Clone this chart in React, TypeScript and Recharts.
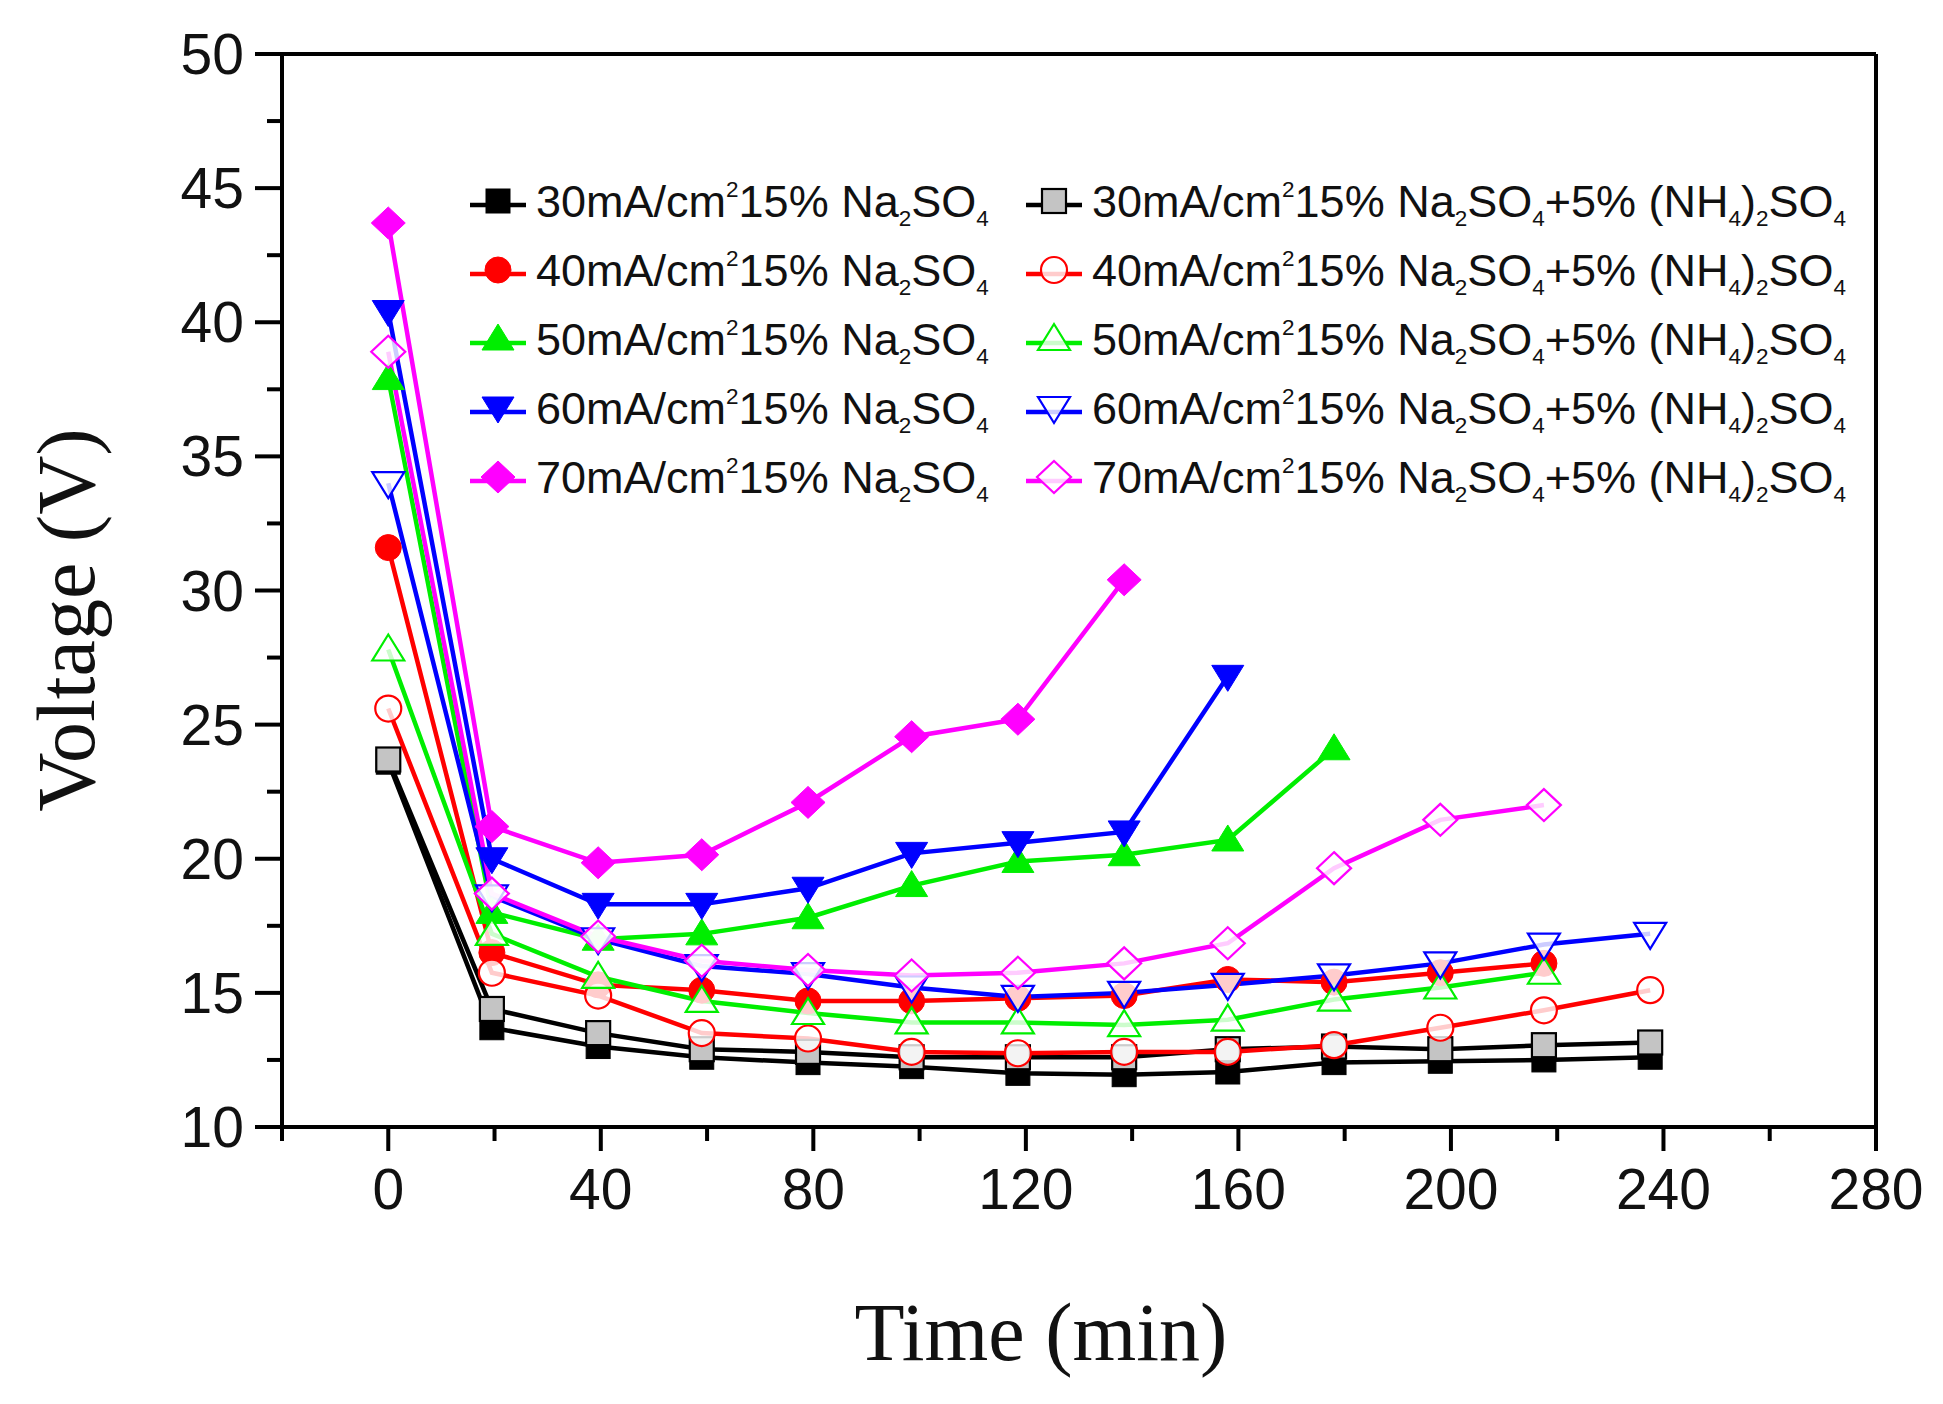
import React from "react";
import { LineChart, Line, XAxis, YAxis, ReferenceLine, Label } from "recharts";

// sampling times (min)
const times = [0, 19.5, 39.5, 59, 79, 98.5, 118.5, 138.5, 158, 178, 198, 217.5, 237.5];

// 15% Na2SO4
const na30 = [23.6, 13.7, 13.0, 12.6, 12.4, 12.25, 12.0, 11.95, 12.05, 12.4, 12.45, 12.5, 12.6];
const na40 = [31.6, 16.5, 15.3, 15.1, 14.7, 14.7, 14.8, 14.9, 15.5, 15.4, 15.75, 16.1];
const na50 = [37.9, 18.0, 17.0, 17.2, 17.8, 19.0, 19.9, 20.15, 20.7, 24.1];
const na60 = [40.4, 20.0, 18.3, 18.3, 18.9, 20.2, 20.6, 21.0, 26.8];
const na70 = [43.7, 21.2, 19.85, 20.15, 22.1, 24.55, 25.2, 30.4];

// 15% Na2SO4 + 5% (NH4)2SO4
const mix30 = [23.7, 14.4, 13.5, 12.9, 12.8, 12.6, 12.6, 12.6, 12.9, 13.0, 12.9, 13.05, 13.15];
const mix40 = [25.6, 15.75, 14.9, 13.5, 13.3, 12.8, 12.75, 12.8, 12.8, 13.05, 13.7, 14.35, 15.1];
const mix50 = [27.8, 17.2, 15.6, 14.7, 14.25, 13.9, 13.9, 13.8, 14.0, 14.75, 15.2, 15.75];
const mix60 = [34.0, 18.6, 17.0, 16.0, 15.7, 15.2, 14.85, 15.0, 15.3, 15.65, 16.1, 16.8, 17.2];
const mix70 = [38.9, 18.7, 17.1, 16.2, 15.85, 15.65, 15.75, 16.1, 16.85, 19.65, 21.45, 22.0];

const xTicks = [-20, 0, 20, 40, 60, 80, 100, 120, 140, 160, 180, 200, 220, 240, 260, 280];
const yTicks = [10, 12.5, 15, 17.5, 20, 22.5, 25, 27.5, 30, 32.5, 35, 37.5, 40, 42.5, 45, 47.5, 50];

type Shape = "square" | "circle" | "up" | "down" | "diamond";

interface Series {
  key: string;
  conc: string;
  mixed: boolean;
  color: string;
  shape: Shape;
  values: number[];
}

const series: Series[] = [
  { key: "na30", conc: "30", mixed: false, color: "#000000", shape: "square", values: na30 },
  { key: "na40", conc: "40", mixed: false, color: "#ff0000", shape: "circle", values: na40 },
  { key: "na50", conc: "50", mixed: false, color: "#00ee00", shape: "up", values: na50 },
  { key: "na60", conc: "60", mixed: false, color: "#0000ff", shape: "down", values: na60 },
  { key: "na70", conc: "70", mixed: false, color: "#ff00ff", shape: "diamond", values: na70 },
  { key: "mix30", conc: "30", mixed: true, color: "#000000", shape: "square", values: mix30 },
  { key: "mix40", conc: "40", mixed: true, color: "#ff0000", shape: "circle", values: mix40 },
  { key: "mix50", conc: "50", mixed: true, color: "#00ee00", shape: "up", values: mix50 },
  { key: "mix60", conc: "60", mixed: true, color: "#0000ff", shape: "down", values: mix60 },
  { key: "mix70", conc: "70", mixed: true, color: "#ff00ff", shape: "diamond", values: mix70 },
];

const SANS = "'Liberation Sans', Arial, sans-serif";
const SERIF = "'Liberation Serif', 'Times New Roman', serif";

function Marker({ cx, cy, shape, color, open }: { cx: number; cy: number; shape: Shape; color: string; open: boolean }) {
  let fill = open ? "rgba(255,255,255,0.8)" : color;
  let stroke = color;
  if (shape === "square" && open) {
    fill = "#c4c4c4";
    stroke = "#000";
  }
  const sw = open ? 2.2 : 1;
  switch (shape) {
    case "square":
      return <rect x={cx - 12} y={cy - 12} width={24} height={24} fill={fill} stroke={stroke} strokeWidth={sw} />;
    case "circle":
      return <circle cx={cx} cy={cy} r={13} fill={fill} stroke={stroke} strokeWidth={sw} />;
    case "up":
      return <polygon points={`${cx},${cy - 15} ${cx - 16},${cy + 11} ${cx + 16},${cy + 11}`} fill={fill} stroke={stroke} strokeWidth={sw} />;
    case "down":
      return <polygon points={`${cx - 16},${cy - 11} ${cx + 16},${cy - 11} ${cx},${cy + 15}`} fill={fill} stroke={stroke} strokeWidth={sw} />;
    default:
      return <polygon points={`${cx},${cy - 16} ${cx + 17},${cy} ${cx},${cy + 16} ${cx - 17},${cy}`} fill={fill} stroke={stroke} strokeWidth={sw} />;
  }
}

function XTick(props: any) {
  const { x, y, payload } = props;
  const v = payload.value;
  const major = v % 40 === 0;
  return (
    <g>
      <line x1={x} x2={x} y1={y} y2={y + (major ? 24 : 14)} stroke="#000" strokeWidth={4} />
      {major && (
        <text x={x} y={y + 62} textAnchor="middle" dominantBaseline="central" fontFamily={SANS} fontSize={57} fill="#111">
          {v}
        </text>
      )}
    </g>
  );
}

function YTick(props: any) {
  const { x, y, payload } = props;
  const v = payload.value;
  const major = v % 5 === 0;
  return (
    <g>
      <line x1={x} x2={x - (major ? 27 : 15)} y1={y} y2={y} stroke="#000" strokeWidth={4} />
      {major && (
        <text x={x - 38} y={y} textAnchor="end" dominantBaseline="central" fontFamily={SANS} fontSize={57} fill="#111">
          {v}
        </text>
      )}
    </g>
  );
}

function LegendText({ s }: { s: Series }) {
  const sub: React.CSSProperties = { fontSize: "0.5em", verticalAlign: "-0.4em", lineHeight: 0 };
  const sup: React.CSSProperties = { fontSize: "0.5em", verticalAlign: "0.9em", lineHeight: 0 };
  return (
    <span>
      {s.conc}mA/cm<span style={sup}>2</span>15% Na<span style={sub}>2</span>SO<span style={sub}>4</span>
      {s.mixed && (
        <>
          +5% (NH<span style={sub}>4</span>)<span style={sub}>2</span>SO<span style={sub}>4</span>
        </>
      )}
    </span>
  );
}

function ChartLegend() {
  return (
    <>
      {series.map((s, i) => {
        const col = s.mixed ? 1 : 0;
        const row = i % 5;
        const left = col === 0 ? 466 : 1022;
        const top = 202 + row * 69 - 25;
        return (
          <div
            key={s.key}
            style={{
              position: "absolute", left, top, height: 50, display: "flex", alignItems: "center",
              fontFamily: SANS, fontSize: 45, color: "#111", whiteSpace: "nowrap",
            }}
          >
            <svg width={64} height={50} style={{ marginRight: 6 }}>
              <line x1={4} x2={60} y1={28} y2={28} stroke={s.color} strokeWidth={4.5} />
              <Marker cx={32} cy={24} shape={s.shape} color={s.color} open={s.mixed} />
            </svg>
            <LegendText s={s} />
          </div>
        );
      })}
    </>
  );
}

export default function App() {
  return (
    <div style={{ position: "absolute", left: 0, top: 0, width: 1943, height: 1404, background: "#fff" }}>
      <LineChart width={1943} height={1404} margin={{ top: 54, right: 67, left: 0, bottom: 0 }}>
        <XAxis
          type="number"
          dataKey="t"
          domain={[-20, 280]}
          ticks={xTicks}
          interval={0}
          height={277}
          tickSize={0}
          tickMargin={0}
          tickLine={false}
          tick={<XTick />}
          axisLine={{ stroke: "#000", strokeWidth: 4 }}
        >
          <Label
            content={() => (
              <text x={1041} y={1332} textAnchor="middle" dominantBaseline="central" fontFamily={SERIF} fontSize={82} fill="#111">
                Time (min)
              </text>
            )}
          />
        </XAxis>
        <YAxis
          type="number"
          domain={[10, 50]}
          ticks={yTicks}
          interval={0}
          width={282}
          tickSize={0}
          tickMargin={0}
          tickLine={false}
          tick={<YTick />}
          axisLine={{ stroke: "#000", strokeWidth: 4 }}
        >
          <Label
            content={() => (
              <text x={66} y={620} textAnchor="middle" dominantBaseline="central" fontFamily={SERIF} fontSize={82} fill="#111" transform="rotate(-90 66 620)">
                Voltage (V)
              </text>
            )}
          />
        </YAxis>
        <ReferenceLine y={50} stroke="#000" strokeWidth={4} />
        <ReferenceLine x={280} stroke="#000" strokeWidth={4} />
        {series.map((s) => {
          const data = s.values.map((v, i) => ({ t: times[i], v }));
          return (
            <Line
              key={s.key}
              data={data}
              dataKey="v"
              type="linear"
              stroke={s.color}
              strokeWidth={4.5}
              isAnimationActive={false}
              dot={(p: any) => (
                <Marker key={`${s.key}-${p.index}`} cx={p.cx} cy={p.cy} shape={s.shape} color={s.color} open={s.mixed} />
              )}
              activeDot={false}
            />
          );
        })}
      </LineChart>
      <ChartLegend />
    </div>
  );
}
